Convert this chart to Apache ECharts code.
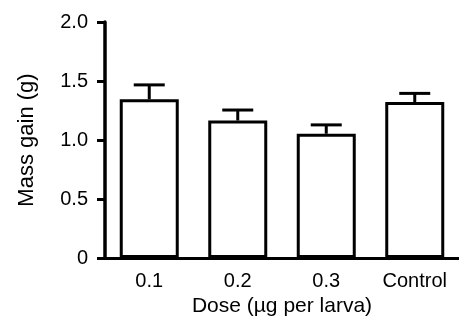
<!DOCTYPE html>
<html>
<head>
<meta charset="utf-8">
<script src="https://cdn.jsdelivr.net/npm/echarts@6/dist/echarts.min.js"></script>
<style>
  html, body { margin: 0; padding: 0; background: #fff; }
  #chart { width: 459px; height: 322px; }
</style>
</head>
<body>
<div id="chart"></div>
<script>
var categories = ['0.1', '0.2', '0.3', 'Control'];
var massGain = [1.345, 1.165, 1.053, 1.322];
var errUpper = [1.467, 1.254, 1.128, 1.395];
var yTicks = [0, 0.5, 1.0, 1.5, 2.0];

var myChart = echarts.init(document.getElementById('chart'));

var font = 'Liberation Sans, Arial, sans-serif';

var option = {
    animation: false,
    backgroundColor: '#fff',
    grid: { left: 105, top: 22, width: 360, height: 240 },
    xAxis: {
        type: 'category',
        data: categories,
        z: 5,
        name: 'Dose (\u00b5g per larva)',
        nameLocation: 'middle',
        nameGap: 38,
        nameTextStyle: { color: '#000', fontSize: 21, fontFamily: font },
        axisLine: { lineStyle: { color: '#000', width: 3 } },
        axisTick: { alignWithLabel: true, length: 7, lineStyle: { color: '#000', width: 3 } },
        axisLabel: { color: '#000', fontSize: 20, fontFamily: font, margin: 13 }
    },
    yAxis: {
        type: 'value',
        min: 0,
        max: 2,
        interval: 0.5,
        z: 5,
        name: 'Mass gain (g)',
        nameLocation: 'middle',
        nameGap: 67,
        nameTextStyle: { color: '#000', fontSize: 22, fontFamily: font },
        splitLine: { show: false },
        axisLine: { show: true, lineStyle: { color: '#000', width: 3.5 } },
        axisTick: { show: true, length: 8, lineStyle: { color: '#000', width: 3 } },
        axisLabel: {
            color: '#000', fontSize: 20, fontFamily: font, margin: 17,
            formatter: function (v) {
                return v === 0 ? '0' : v.toFixed(1);
            }
        }
    },
    series: [
        {
            type: 'bar',
            data: massGain,
            barWidth: 59,
            itemStyle: { color: '#fff', borderColor: '#000', borderWidth: 3 },
            z: 2
        },
        {
            type: 'custom',
            data: categories.map(function (c, i) { return [i, massGain[i], errUpper[i]]; }),
            renderItem: function (params, api) {
                var base = api.coord([api.value(0), api.value(1)]);
                var top = api.coord([api.value(0), api.value(2)]);
                var half = 15.5;
                var st = { stroke: '#000', lineWidth: 3 };
                return {
                    type: 'group',
                    children: [
                        { type: 'line', shape: { x1: base[0], y1: base[1], x2: top[0], y2: top[1] }, style: st },
                        { type: 'line', shape: { x1: top[0] - half, y1: top[1], x2: top[0] + half, y2: top[1] }, style: st }
                    ]
                };
            },
            z: 3
        }
    ]
};

if (option && typeof option === "object") {
    myChart.setOption(option, true);
}
</script>
</body>
</html>
